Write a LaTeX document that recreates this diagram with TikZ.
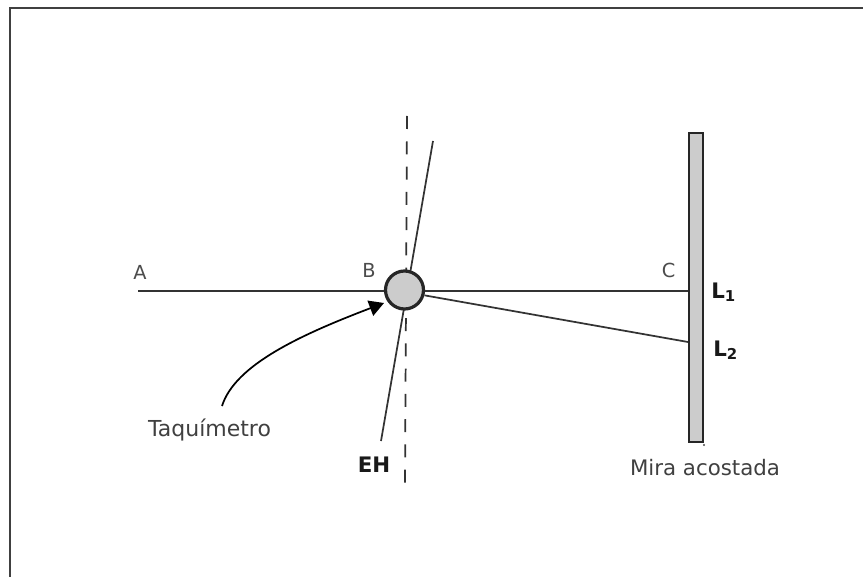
\documentclass[tikz,border=0pt]{standalone}
\usepackage{fontspec}
\setmainfont{DejaVu Sans}
\usetikzlibrary{arrows.meta}
\tikzset{
  px/.style={x=0.75pt,y=-0.75pt},
  ln/.style={draw=black!80,line width=1.5pt},
  thin ln/.style={draw=black!80,line width=1.3pt},
  lab/.style={inner sep=0pt,text=black!75,font=\fontsize{16}{18}\selectfont},
  taqlab/.style={inner sep=0pt,text=black!75,font=\fontsize{16.5}{18}\selectfont},
  smlab/.style={inner sep=0pt,text=black!70,font=\fontsize{14.5}{16}\selectfont},
  blab/.style={inner sep=0pt,text=black!90,font=\fontsize{16}{18}\selectfont\bfseries},
}
\begin{document}
\begin{tikzpicture}[px]
\useasboundingbox (0,0) rectangle (863,577);
\fill[white] (0,0) rectangle (863,577);
\draw[draw=black!75,line width=1pt] (10,577) -- (10,8) -- (863,8);
% named points
\coordinate (A) at (138,291);
\coordinate (Dtop) at (407,116);
\coordinate (Dbot) at (405,486);
\coordinate (Etop) at (433,141);
\coordinate (Ebot) at (381,441);
\coordinate (Tail) at (222,406);
\coordinate (Head) at (384,303);
\node[rectangle,draw=black!85,fill=black!20,line width=1.5pt,minimum width=10.5pt,inner sep=0pt,
      anchor=north west,minimum height=231.5pt] (mira) at (688,132) {};
\coordinate (L1) at (mira.west |- 0,291);
\coordinate (L2) at (mira.west |- 0,342);
\draw[thin ln,dash pattern=on 9.75pt off 9.2pt] (Dtop) -- (Dbot);
\draw[thin ln] (Etop) -- (Ebot);
\node[circle,draw=black!85,fill=black!20,line width=2.4pt,minimum size=28.5pt,inner sep=0pt] (B) at (404.5,290) {};
\draw[ln] (A) -- (B.west |- A);
\draw[ln] (B.east |- L1) -- (L1);
\draw[thin ln] (B.-15) -- (L2);
\draw[thin ln,-{Triangle[length=11pt,width=12pt]},black] (Tail) .. controls (235,365) and (300,335) .. (Head);
\fill[black!70] (704,445) circle (0.8pt);
\node[smlab,anchor=base] (tA) at (140,279) {A};
\node[smlab,anchor=base] (tB) at (369,277) {B};
\node[smlab,anchor=base] (tC) at (668.5,277) {C};
\node[blab,anchor=base west] (tL1) at (711,298) {L\textsubscript{1}};
\node[blab,anchor=base west] (tL2) at (713,356) {L\textsubscript{2}};
\node[blab,anchor=base] (tEH) at (374,472) {EH};
\node[taqlab,anchor=base] (tT) at (209.5,436) {Taquímetro};
\node[lab,anchor=base] (tM) at (705,475) {Mira acostada};
\end{tikzpicture}
\end{document}
